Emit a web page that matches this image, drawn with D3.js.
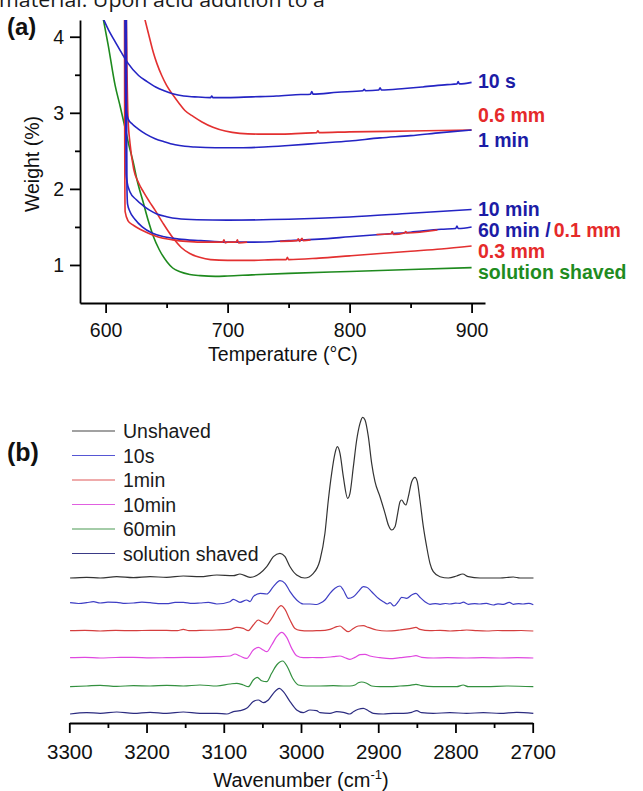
<!DOCTYPE html>
<html><head><meta charset="utf-8">
<script src="https://cdn.jsdelivr.net/npm/d3@7"></script>
<style>body{margin:0;background:#fff}svg{display:block}text{font-family:"Liberation Sans",Arial,sans-serif}</style>
</head><body><svg id="c" width="643" height="791"></svg>
<script>
// ---------- Panel (a): TGA curves, [temperature °C, weight %] ----------
const aXTicks = [600, 700, 800, 900];
const aXMinor = [650, 750, 850];
const aYTicks = [1, 2, 3, 4];
const aYMinor = [1.5, 2.5, 3.5];

const tga10s = [[598,4.24],[603,4.07],[608,3.93],[613,3.79],[618,3.66],[627,3.49],[634,3.41],[641,3.34],[648,3.29],[655,3.25],[664,3.22],[673,3.21],[686,3.20],[687,3.22],[688,3.20],[700,3.20],[720,3.21],[740,3.22],[760,3.24],[768,3.245],[769,3.28],[770,3.245],[790,3.27],[811,3.29],[812,3.31],[813,3.29],[824,3.30],[825,3.33],[826,3.30],[845,3.32],[860,3.34],[880,3.37],[888,3.38],[889,3.41],[890,3.38],[900,3.40]];
const tga06mm = [[632,4.24],[635,4.05],[639,3.80],[642,3.65],[646,3.49],[650,3.36],[654.5,3.25],[660,3.13],[665,3.03],[672,2.95],[679,2.88],[688,2.81],[698,2.76],[710,2.73],[725,2.72],[745,2.72],[760,2.73],[773,2.74],[774,2.765],[775,2.74],[800,2.75],[850,2.76],[900,2.775]];
const tga1min = [[616,4.24],[616.3,3.5],[616.6,3.1],[617.5,2.98],[618.4,2.92],[622,2.85],[626.6,2.79],[633,2.72],[640.6,2.66],[648,2.62],[657,2.58],[665,2.56],[673,2.55],[690,2.54],[710,2.54],[730,2.55],[750,2.57],[775,2.60],[800,2.63],[825,2.67],[850,2.70],[875,2.74],[900,2.775]];
const tga10min = [[616.2,4.24],[616.5,3.0],[616.8,2.2],[617.5,2.10],[620,1.96],[625,1.86],[630.7,1.78],[636,1.72],[642,1.67],[650,1.635],[658.6,1.61],[675,1.595],[700,1.59],[750,1.60],[800,1.63],[850,1.68],[900,1.73]];
const tga60min = [[617,4.24],[617.2,3.0],[617.5,2.0],[618,1.80],[620,1.70],[624,1.60],[630,1.50],[638,1.42],[648,1.37],[660,1.34],[678,1.32],[700,1.30],[720,1.30],[750,1.32],[775,1.34],[800,1.37],[825,1.40],[850,1.43],[875,1.47],[887,1.48],[888,1.51],[889,1.48],[900,1.50]];
// red 0.1 mm curve: null where it is hidden under the blue 60 min curve
const tga01mm = [[615.5,4.24],[615.6,3.0],[615.8,2.0],[616,1.70],[618.4,1.58],[622,1.53],[626,1.49],[632,1.44],[639,1.39],[647,1.35],[655,1.33],[666,1.31],[677.5,1.30],[690,1.30],[696,1.30],[697,1.33],[698,1.29],[700,1.30],[707,1.30],[708,1.33],[709,1.29],[716,1.30],[730,null],[743,1.31],[757,1.32],[758,1.345],[759,1.31],[761,1.35],[762,1.32],[768,1.33],[790,null],[822,1.40],[834,1.41],[835,1.44],[836,1.40],[845,1.42],[846,1.44],[847,1.42],[872,1.46]];
const tga03mm = [[617,4.24],[617.5,3.6],[618.4,2.92],[620,2.6],[623,2.26],[627,2.08],[631,1.96],[636,1.83],[640.5,1.72],[647,1.55],[655,1.36],[662,1.23],[669,1.15],[677,1.10],[686,1.07],[700,1.06],[720,1.06],[740,1.07],[748,1.07],[749,1.10],[750,1.07],[775,1.09],[800,1.12],[825,1.15],[850,1.18],[875,1.21],[900,1.25]];
const tgaSolution = [[598,4.24],[602,3.9],[607.8,3.36],[612,3.08],[616,2.80],[619,2.58],[622.5,2.36],[626,2.10],[630.7,1.83],[635,1.58],[639,1.38],[644,1.20],[650.4,1.04],[655,0.96],[661,0.91],[669,0.875],[677.5,0.86],[690,0.85],[700,0.855],[720,0.87],[750,0.89],[800,0.915],[850,0.94],[900,0.965]];

const aLabels = ["10 s", "0.6 mm", "1 min", "10 min", "60 min /", "0.1 mm", "0.3 mm", "solution shaved"];

// ---------- Panel (b): IR spectra, [wavenumber cm-1, relative absorbance] ----------
const bTicks = [3300, 3200, 3100, 3000, 2900, 2800, 2700];
const bMinor = [3250, 3150, 3050, 2950, 2850, 2750];
const bNames = ["Unshaved", "10s", "1min", "10min", "60min", "solution shaved"];
const bOffsets = [1.45, 1.20, 0.923, 0.653, 0.37, 0.097];

const irUnshaved = [[3299,0],[3277.5,0.007],[3260,0],[3238.6,0.013],[3217,0.003],[3195.5,0.013],[3174,0.007],[3152.4,0.02],[3130.8,0.013],[3109,0.03],[3087.6,0.023],[3079,0.04],[3066,0.007],[3053,0.047],[3044.4,0.113],[3035.8,0.213],[3027.2,0.247],[3020.7,0.213],[3014.2,0.113],[3005.6,0.03],[2995,0],[2984,0.047],[2975.4,0.18],[2969,0.447],[2964.6,0.78],[2960.3,1.047],[2956,1.247],[2953,1.313],[2949.5,1.247],[2945.2,1.013],[2939.6,0.797],[2936.6,0.847],[2932.2,1.113],[2927.9,1.38],[2923.6,1.547],[2920.2,1.607],[2917.1,1.58],[2912.8,1.413],[2908.5,1.147],[2904.2,0.963],[2897.7,0.813],[2891.2,0.647],[2886.9,0.53],[2882.6,0.48],[2878.3,0.513],[2874.8,0.647],[2871.8,0.763],[2869.7,0.78],[2866.6,0.747],[2864.1,0.73],[2861,0.813],[2856.7,0.963],[2852.4,1.007],[2849.4,0.963],[2846,0.78],[2841.6,0.513],[2837.3,0.313],[2833,0.147],[2828.7,0.063],[2820,0.013],[2809.2,0],[2798.5,0.02],[2790.7,0.04],[2783.3,0.013],[2768.2,0],[2742.3,0],[2725.1,0.01],[2716.4,0],[2699,0]];
const ir10s = [[3299,0.003],[3288,-0.005],[3277.5,0.003],[3268.8,0.013],[3260,0],[3250,0.008],[3238.6,0.007],[3228,-0.004],[3217,0],[3206,0.008],[3195.5,0.003],[3185,-0.006],[3174,-0.007],[3163,0.006],[3152.4,0.007],[3141,-0.004],[3130.8,0],[3120,0.006],[3109,-0.01],[3092,0.013],[3087.6,0.037],[3079,0.007],[3070.4,0.03],[3066,0.013],[3061.8,0.063],[3053,0.097],[3044.4,0.09],[3035.8,0.163],[3027.2,0.223],[3020.7,0.197],[3014.2,0.113],[3005.6,0.03],[2997,-0.01],[2988.4,-0.01],[2979.8,-0.015],[2975.4,-0.003],[2969,0.03],[2962.5,0.097],[2956,0.147],[2949.5,0.17],[2945.2,0.13],[2938.7,0.047],[2932.2,0.063],[2925.8,0.113],[2919.3,0.163],[2915,0.157],[2908.5,0.113],[2899.9,0.047],[2893.4,0.013],[2888.2,-0.01],[2884.8,0.003],[2879.6,-0.03],[2874,0.013],[2869.7,0.057],[2863.2,0.047],[2856.7,0.08],[2851.1,0.097],[2846,0.057],[2839.5,0.013],[2833,-0.013],[2826,-0.006],[2820,-0.013],[2813,-0.005],[2807.1,-0.01],[2800,-0.002],[2794.1,-0.003],[2789.8,0.008],[2783.3,-0.013],[2775,-0.006],[2768.2,-0.01],[2760,-0.004],[2751,-0.02],[2745,-0.008],[2738,-0.013],[2730.3,0.006],[2725.1,-0.013],[2718,-0.006],[2712.1,-0.01],[2705,-0.004],[2699.2,-0.017]];
const ir1min = [[3299,0],[3280,0.004],[3260,-0.003],[3240,0.003],[3217,0],[3195,0.004],[3174,0.003],[3160,0],[3152.4,0.013],[3145,0],[3130.8,0.003],[3109,0.007],[3092,0.013],[3083.3,0.033],[3074.7,0.023],[3068.2,0],[3061.8,0.057],[3055.3,0.107],[3051,0.09],[3044.4,0.067],[3038,0.123],[3031.5,0.207],[3025.9,0.25],[3020.7,0.213],[3014.2,0.107],[3007.8,0.023],[3001.3,0.004],[2990,-0.002],[2979.8,0],[2975.4,0],[2962.5,0.013],[2953.8,0.04],[2949.5,0.047],[2945.2,0.023],[2938.7,-0.01],[2932.2,0.023],[2925.8,0.047],[2919.3,0.05],[2912.8,0.033],[2902,0.007],[2889,-0.003],[2871.8,0.007],[2858.9,0.02],[2851.1,0.033],[2846,0.013],[2833,0],[2820,0.004],[2807,-0.003],[2795,0.002],[2785.5,0.007],[2772,0],[2759.6,-0.003],[2745,0.002],[2733.7,0],[2715,0.002],[2699.2,-0.003]];
const ir10min = [[3299,0],[3280,0.003],[3260,-0.003],[3240,0.002],[3217,0.003],[3195,-0.002],[3174,0],[3150,0.003],[3130.8,0.003],[3109,0.01],[3092,0.017],[3085.5,0.037],[3079,0.017],[3070.4,-0.007],[3061.8,0.077],[3055.3,0.103],[3048.8,0.077],[3044.4,0.06],[3038,0.127],[3031.5,0.21],[3025,0.253],[3018.5,0.203],[3012,0.093],[3005.6,0.02],[2997,0],[2985,0.002],[2975.4,0],[2958.1,0.01],[2949.5,0.017],[2943,0],[2936.6,-0.017],[2930.1,0.003],[2923.6,0.03],[2917.1,0.033],[2910.7,0.017],[2897.7,0],[2884.8,-0.01],[2871.8,0],[2858.9,0.01],[2851.1,0.02],[2843.8,0.003],[2828.7,-0.003],[2810,0],[2785.5,-0.003],[2765,0],[2742.3,-0.003],[2720,0],[2699.2,-0.003]];
const ir60min = [[3299,-0.007],[3277.5,0],[3260,0.007],[3238.6,-0.003],[3217,0.003],[3195.5,0],[3174,0.007],[3152.4,0],[3130.8,0.01],[3109,0],[3092,0.02],[3083.3,0.027],[3074.7,0.01],[3068.2,-0.007],[3061.8,0.06],[3056.6,0.087],[3051,0.053],[3044.4,0.043],[3038,0.127],[3031.5,0.21],[3023.7,0.25],[3017.7,0.193],[3010.8,0.077],[3003.5,0.01],[2992.6,0],[2975.4,0],[2958.1,0.003],[2945.2,0],[2936.6,0],[2930.1,0.01],[2925.8,0.033],[2921.5,0.04],[2915,0.027],[2908.5,0],[2897.7,-0.007],[2884.8,-0.007],[2871.8,0],[2858.9,0.007],[2851.1,0.017],[2843.8,0.003],[2828.7,-0.007],[2798.5,-0.007],[2790,0.01],[2783.3,-0.007],[2759.6,-0.007],[2733.7,0],[2699.2,-0.007]];
const irSolution = [[3299,-0.007],[3277.5,0.007],[3260,0],[3238.6,0.013],[3217,0],[3195.5,0.01],[3174,0],[3152.4,0.013],[3130.8,0],[3109,0],[3096,-0.007],[3087.6,0.017],[3079,0.027],[3070.4,0.05],[3061.8,0.117],[3055.3,0.133],[3048.8,0.107],[3042.3,0.133],[3035.8,0.2],[3028,0.25],[3022.8,0.217],[3014.2,0.117],[3005.6,0.033],[2997,0.007],[2988.4,0.033],[2979.8,0.027],[2975.4,0.006],[2962.5,0],[2953.8,0.016],[2945.2,0.01],[2936.6,-0.007],[2932.2,0.016],[2925.8,0.04],[2919.3,0.05],[2912.8,0.026],[2906.3,0],[2893.4,-0.007],[2880.5,0],[2867.5,0],[2856.7,0.01],[2850.2,0.026],[2843.8,0.006],[2828.7,0],[2807.1,0.006],[2785.5,0],[2764,0.006],[2742.3,0],[2720.7,0.01],[2699.2,0]];

const irSeries = [irUnshaved, ir10s, ir1min, ir10min, ir60min, irSolution];

// ---------- styles ----------
const BLUE = "#2424c4", RED = "#e33030", GREEN = "#1e8a1e";
const LBLUE = "#1c1ca6", LRED = "#e52a2a", LGREEN = "#1f8c1f";
const bColors = ["#333333", "#3e3ec4", "#d53e3e", "#e048e0", "#33903f", "#2c2c80"];
const bLegendColors = ["#454545", "#5656d4", "#e05858", "#e060e0", "#4a9a52", "#3a3a86"];
const FONT = "'Liberation Sans',Arial,sans-serif";

const svg = d3.select("#c");

// top clipped text line from the source document
svg.append("text").attr("x", -1).attr("y", 7).attr("font-size", 20).attr("fill", "#1a1a1a")
  .style("font-family", "'Open Sans','Liberation Sans',sans-serif")
  .attr("textLength", 326).attr("lengthAdjust", "spacingAndGlyphs")
  .text("material. Upon acid addition to a");

// ---------- Panel (a) ----------
const xA = d3.scaleLinear().domain([579, 911]).range([80, 485]);
const yA = d3.scaleLinear().domain([0.5, 4.22]).range([303, 20]);

svg.append("defs").append("clipPath").attr("id", "clipA")
  .append("rect").attr("x", 80).attr("y", 20).attr("width", 405).attr("height", 283);

function styleAxis(g, fs) {
  g.attr("font-family", null);
  g.select(".domain").attr("stroke", "#000").attr("stroke-width", 1.8);
  g.selectAll(".tick line").attr("stroke", "#000").attr("stroke-width", 1.8);
  g.selectAll(".tick text").attr("fill", "#111").attr("font-size", fs).style("font-family", FONT);
}
const fmt = d3.format("d");

const gxA = svg.append("g").attr("transform", "translate(0,303)")
  .call(d3.axisBottom(xA).tickValues(aXTicks).tickFormat(fmt).tickSize(10).tickSizeOuter(0).tickPadding(10));
styleAxis(gxA, 19.5);
const gxAm = svg.append("g").attr("transform", "translate(0,303)")
  .call(d3.axisBottom(xA).tickValues(aXMinor).tickSize(5).tickFormat(""));
gxAm.select(".domain").remove(); styleAxis(gxAm, 0);

const gyA = svg.append("g").attr("transform", "translate(80,0)")
  .call(d3.axisLeft(yA).tickValues(aYTicks).tickFormat(fmt).tickSize(10).tickSizeOuter(0).tickPadding(6));
styleAxis(gyA, 19.5);
gyA.selectAll(".tick text").attr("dy", "0.36em");
const gyAm = svg.append("g").attr("transform", "translate(80,0)")
  .call(d3.axisLeft(yA).tickValues(aYMinor).tickSize(5).tickFormat(""));
gyAm.select(".domain").remove(); styleAxis(gyAm, 0);

svg.append("text").attr("x", 283).attr("y", 361).attr("text-anchor", "middle")
  .attr("font-size", 19.5).attr("fill", "#111").text("Temperature (°C)");
svg.append("text").attr("transform", "translate(39,164) rotate(-90)").attr("text-anchor", "middle")
  .attr("font-size", 19.5).attr("fill", "#111").text("Weight (%)");
svg.append("text").attr("x", 7).attr("y", 35).attr("font-size", 24).attr("font-weight", "bold")
  .attr("fill", "#111").text("(a)");

const lineA = d3.line().defined(d => d[1] != null)
  .x(d => xA(d[0])).y(d => yA(d[1])).curve(d3.curveMonotoneX);
const gA = svg.append("g").attr("clip-path", "url(#clipA)");
const aCurves = [
  [tgaSolution, GREEN], [tga03mm, RED], [tga06mm, RED], [tga60min, BLUE], [tga01mm, RED],
  [tga10min, BLUE], [tga1min, BLUE], [tga10s, BLUE]
];
aCurves.forEach(([d, c]) => gA.append("path").attr("d", lineA(d)).attr("fill", "none")
  .attr("stroke", c).attr("stroke-width", 1.6).attr("stroke-linejoin", "round"));

// end labels
const lab = (t, y, c) => svg.append("text").attr("x", 478).attr("y", y).attr("font-size", 19.5)
  .attr("font-weight", "bold").attr("fill", c).text(t);
lab(aLabels[0], 88, LBLUE);
lab(aLabels[1], 121.5, LRED);
lab(aLabels[2], 147, LBLUE);
lab(aLabels[3], 215.5, LBLUE);
const t6 = svg.append("text").attr("x", 478).attr("y", 236.5).attr("font-size", 19.5).attr("font-weight", "bold");
t6.append("tspan").attr("fill", LBLUE).text(aLabels[4]);
t6.append("tspan").attr("fill", LRED).attr("dx", 3).text(aLabels[5]);
lab(aLabels[6], 258, LRED);
lab(aLabels[7], 279, LGREEN);

// ---------- Panel (b) ----------
const xB = d3.scaleLinear().domain([3300, 2700]).range([69.3, 532.7]);
const yB = d3.scaleLinear().domain([0, 3.2]).range([723, 403]);

const gxB = svg.append("g").attr("transform", "translate(0,723)")
  .call(d3.axisBottom(xB).tickValues(bTicks).tickFormat(fmt).tickSize(10).tickSizeOuter(0).tickPadding(11));
styleAxis(gxB, 20.5);
const gxBm = svg.append("g").attr("transform", "translate(0,723)")
  .call(d3.axisBottom(xB).tickValues(bMinor).tickSize(5).tickFormat(""));
gxBm.select(".domain").remove(); styleAxis(gxBm, 0);

const wt = svg.append("text").attr("x", 301).attr("y", 787).attr("text-anchor", "middle")
  .attr("font-size", 20).attr("fill", "#111");
wt.append("tspan").text("Wavenumber (cm");
wt.append("tspan").attr("font-size", 13).attr("dy", -8).text("-1");
wt.append("tspan").attr("dy", 8).text(")");

svg.append("text").attr("x", 7).attr("y", 461).attr("font-size", 25).attr("font-weight", "bold")
  .attr("fill", "#111").text("(b)");

const gB = svg.append("g");
irSeries.forEach((s, i) => {
  const line = d3.line().x(d => xB(d[0])).y(d => yB(d[1] + bOffsets[i])).curve(d3.curveMonotoneX);
  gB.append("path").attr("d", line(s)).attr("fill", "none").attr("stroke", bColors[i])
    .attr("stroke-width", 1.2).attr("stroke-linejoin", "round");
});

// legend
const legY = [431, 455.5, 480, 504.5, 529, 553.5];
bNames.forEach((n, i) => {
  svg.append("line").attr("x1", 72).attr("x2", 115).attr("y1", legY[i]).attr("y2", legY[i])
    .attr("stroke", bLegendColors[i]).attr("stroke-width", 1.2);
  svg.append("text").attr("x", 123).attr("y", legY[i] + 7).attr("font-size", 19.5)
    .attr("fill", "#1a1a1a").text(n);
});
</script></body></html>
